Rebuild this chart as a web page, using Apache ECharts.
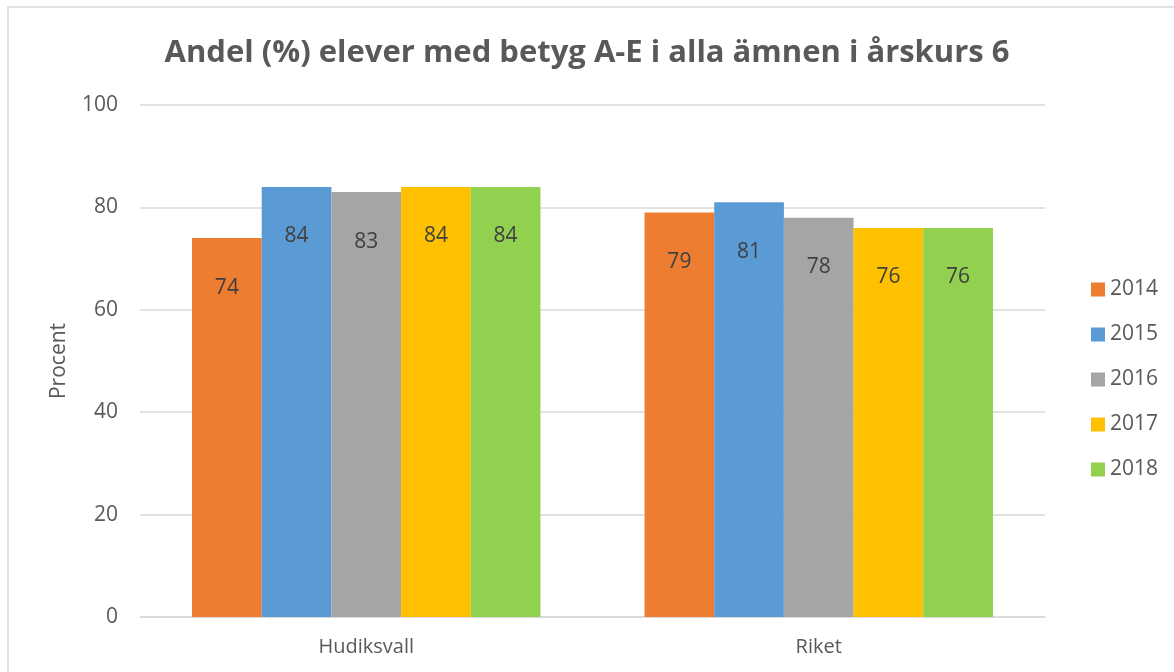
<!DOCTYPE html>
<html>
<head>
<meta charset="utf-8">
<script src="https://cdn.jsdelivr.net/npm/echarts@6/dist/echarts.min.js"></script>
<style>
  html, body { margin: 0; padding: 0; background: #fff; }
  #chart { width: 1174px; height: 672px; }
</style>
</head>
<body>
<div id="chart"></div>
<script>
var categories = ['Hudiksvall', 'Riket'];
var years = ['2014', '2015', '2016', '2017', '2018'];
var v2014 = [74, 79];
var v2015 = [84, 81];
var v2016 = [83, 78];
var v2017 = [84, 76];
var v2018 = [84, 76];
var yTicks = [0, 20, 40, 60, 80, 100];

var colors = ['#ED7D31', '#5B9BD5', '#A5A5A5', '#FFC000', '#92D050'];
var values = [v2014, v2015, v2016, v2017, v2018];
var fontFam = '"Open Sans", "Liberation Sans", sans-serif';

var series = years.map(function (y, i) {
  return {
    name: y,
    type: 'bar',
    data: values[i],
    barGap: '0%',
    barCategoryGap: '23%',
    itemStyle: { color: colors[i] },
    label: {
      show: true,
      position: 'insideTop',
      distance: 39,
      color: '#404040',
      fontSize: 21,
      fontFamily: fontFam
    }
  };
});

var chart = echarts.init(document.getElementById('chart'));
chart.setOption({
  animation: false,
  backgroundColor: '#fff',
  color: colors,
  title: {
    text: 'Andel (%) elever med betyg A-E i alla ämnen i årskurs 6',
    left: 'center',
    top: 33,
    textStyle: { color: '#595959', fontSize: 31, fontWeight: 'bold', fontFamily: fontFam }
  },
  graphic: [{
    type: 'rect',
    shape: { x: 8, y: 7, width: 1180, height: 700 },
    style: { fill: 'none', stroke: '#D9D9D9', lineWidth: 1.5 },
    silent: true
  }],
  legend: {
    orient: 'vertical',
    left: 1086,
    top: 274,
    itemWidth: 14,
    itemHeight: 14,
    itemGap: 24,
    icon: 'rect',
    textStyle: { color: '#595959', fontSize: 21, fontFamily: fontFam }
  },
  grid: { left: 140, right: 129, top: 105, bottom: 55, containLabel: false },
  xAxis: {
    type: 'category',
    data: categories,
    axisLine: { lineStyle: { color: '#D9D9D9', width: 1.5 } },
    axisTick: { show: false },
    axisLabel: { color: '#595959', fontSize: 20, margin: 20, fontFamily: fontFam }
  },
  yAxis: {
    type: 'value',
    min: yTicks[0],
    max: yTicks[yTicks.length - 1],
    interval: 20,
    name: 'Procent',
    nameLocation: 'middle',
    nameGap: 70,
    nameTextStyle: { color: '#595959', fontSize: 21, fontFamily: fontFam },
    axisLine: { show: false },
    axisTick: { show: false },
    axisLabel: { color: '#595959', fontSize: 21, margin: 22, fontFamily: fontFam },
    splitLine: { lineStyle: { color: '#D9D9D9', width: 1.5 } }
  },
  series: series
});
</script>
</body>
</html>
